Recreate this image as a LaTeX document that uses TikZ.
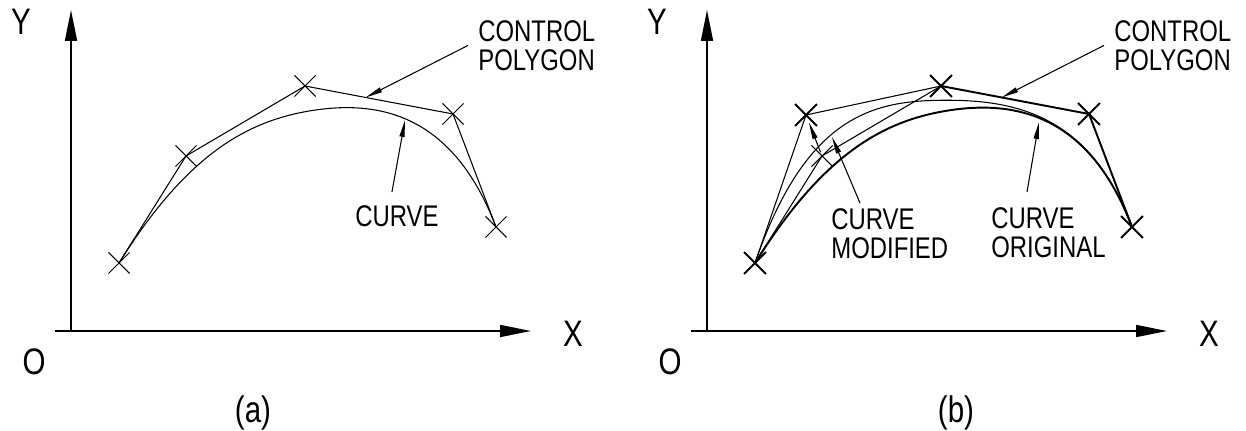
\documentclass[tikz,border=0pt]{standalone}
\usepackage{fontspec}
\setsansfont{Liberation Sans}[FakeStretch=0.8]
\usetikzlibrary{positioning,calc,arrows.meta,shapes.misc}

\begin{document}
\begin{tikzpicture}[
  x=0.02cm, y=-0.02cm,
  font=\sffamily,
  axis/.style={-{Triangle[length=0.62cm,width=0.24cm]}, line width=0.9pt},
  leader/.style={-{Triangle[length=0.34cm,width=0.1cm]}, line width=0.6pt},
  thinline/.style={line width=0.6pt},
  boldline/.style={line width=1.1pt},
  cpt/.style={cross out, draw, line width=#1,
    minimum size=0.4cm, inner sep=0pt},
  cpt/.default=0.6pt,
  lbl/.style={font=\sffamily\fontsize{17pt}{16.5pt}\selectfont,
    align=left, inner sep=0pt, anchor=north west},
  axlbl/.style={font=\sffamily\fontsize{21pt}{21pt}\selectfont, inner sep=0pt},
]
\useasboundingbox (0,0) rectangle (1246,431);

% --- panel (a) ------------------------------------------------------
\coordinate (oa)  at (71,331);
\coordinate (xsa) at (55,331);
\coordinate (xea) at (531,331);
\coordinate (yea) at (71,10);
\draw[axis] (xsa) -- (xea);
\draw[axis] (oa) -- (yea);
\node[axlbl] (Ya)   at (21,22)   {Y};
\node[axlbl] (Xa)   at (573,334) {X};
\node[axlbl] (Oa)   at (34,362)  {O};
\node[axlbl] (capa) at (253,413) {(a)};

\coordinate (a0) at (119,263);
\coordinate (a1) at (186,156);
\coordinate (a2) at (305,86);
\coordinate (a3) at (453,114);
\coordinate (a4) at (496,227);
\coordinate (qa) at ($(a1)!0.5!(a2)$);
\coordinate (ra) at ($(a2)!0.5!(a3)$);
\coordinate (ma) at ($(qa)!0.5!(ra)$);

\draw[thinline] (a0) -- (a1) -- (a2) -- (a3) -- (a4);
\draw[thinline] (a0) .. controls (a1) and (qa) .. (ma)
                     .. controls (ra) and (a3) .. (a4);
\foreach \i in {0,...,4}
  \node[cpt] (xa\i) at (a\i) {};

\coordinate (tpa) at ($(a2)!0.41!(a3)$);
\coordinate (tca) at (405,120);
\node[lbl] (cpa) at (478,20)  {CONTROL\\POLYGON};
\node[lbl] (cva) at (355,205) {CURVE};
\draw[leader] ($(cpa.west)+(-10,0)$) -- (tpa);
\draw[leader] ($(cva.north)+(-5,-13)$) -- (tca);

% --- panel (b) ------------------------------------------------------
\coordinate (ob)  at (707,331);
\coordinate (xsb) at (691,331);
\coordinate (xeb) at (1167,331);
\coordinate (yeb) at (707,10);
\draw[axis] (xsb) -- (xeb);
\draw[axis] (ob) -- (yeb);
\node[axlbl] (Yb)   at (657,22)   {Y};
\node[axlbl] (Xb)   at (1209,334) {X};
\node[axlbl] (Ob)   at (670,362)  {O};
\node[axlbl] (capb) at (956,413)  {(b)};

\coordinate (b0)  at (755,263);
\coordinate (b1)  at (822,156);
\coordinate (b1m) at (806,115);
\coordinate (b2)  at (941,86);
\coordinate (b3)  at (1089,114);
\coordinate (b4)  at (1132,227);
\coordinate (qb)  at ($(b1)!0.5!(b2)$);
\coordinate (rb)  at ($(b2)!0.5!(b3)$);
\coordinate (mb)  at ($(qb)!0.5!(rb)$);
\coordinate (qbm) at ($(b1m)!0.5!(b2)$);
\coordinate (mbm) at ($(qbm)!0.5!(rb)$);

% original polygon and curve
\draw[thinline] (b0) -- (b1) -- (b2);
\draw[boldline] (b2) -- (b3) -- (b4);
\draw[boldline] (b0) .. controls (b1) and (qb) .. (mb)
                     .. controls (rb) and (b3) .. (b4);
% modified polygon and curve
\draw[thinline] (b0) -- (b1m) -- (b2);
\draw[thinline] (b0) .. controls (b1m) and (qbm) .. (mbm)
                     .. controls (rb) and (b3) .. (b4);
\node[cpt] (xb1) at (b1) {};
\foreach \p in {b0,b1m,b2,b3,b4}
  \node[cpt=1.1pt] (x\p) at (\p) {};

\draw[leader, shorten <=0.08cm, shorten >=0.16cm] (b1) -- (b1m);

\coordinate (tpb) at ($(b2)!0.41!(b3)$);
\coordinate (tmb) at (832,137);
\coordinate (tob) at (1039,122);
\node[lbl] (cpb) at (1114,20) {CONTROL\\POLYGON};
\node[lbl] (cvm) at (831,208) {CURVE\\MODIFIED};
\node[lbl] (cvo) at (991,207) {CURVE\\ORIGINAL};
\draw[leader] ($(cpb.west)+(-10,0)$) -- (tpb);
\draw[leader] ($(cvm.north west)+(29,-5)$) -- (tmb);
\draw[leader] ($(cvo.north west)+(36,-15)$) -- (tob);

\end{tikzpicture}
\end{document}
